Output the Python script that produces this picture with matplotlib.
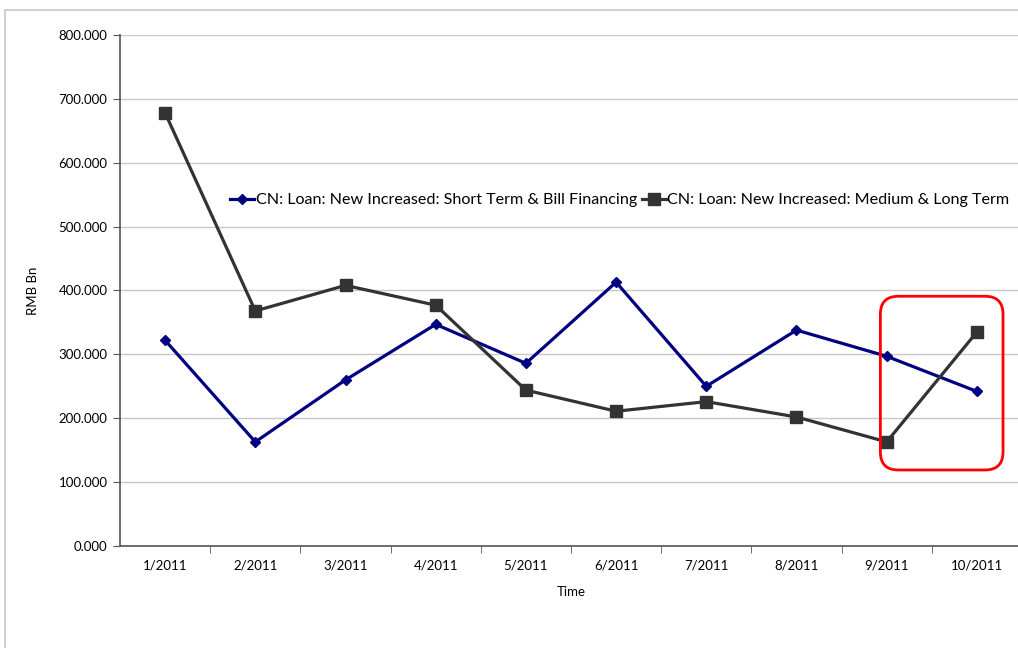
import matplotlib.pyplot as plt
import numpy as np
from matplotlib.patches import FancyBboxPatch, Rectangle

months = ["1/2011", "2/2011", "3/2011", "4/2011", "5/2011",
          "6/2011", "7/2011", "8/2011", "9/2011", "10/2011"]
short_term = [322, 163, 260, 347, 286, 413, 250, 338, 297, 242]
medium_long = [678, 368, 408, 377, 244, 211, 226, 202, 163, 335]
y_ticks = [0, 100, 200, 300, 400, 500, 600, 700, 800]

plt.rcParams["font.family"] = ["Lato", "DejaVu Sans"]

fig = plt.figure(figsize=(10.18, 6.48), dpi=100)
fig.patches.append(Rectangle((0.005, -0.1), 1.2, 1.085, transform=fig.transFigure,
                             fill=False, edgecolor="#c8c8c8", linewidth=1.2))
ax = fig.add_axes([0.1179, 0.1574, 0.886, 0.7886])

x = np.arange(len(months))
ax.plot(x, short_term, color="#000080", linewidth=2.3, marker="D", markersize=5,
        label="CN: Loan: New Increased: Short Term & Bill Financing")
ax.plot(x, medium_long, color="#333333", linewidth=2.3, marker="s", markersize=8,
        label="CN: Loan: New Increased: Medium & Long Term")

ax.set_xlim(-0.5, len(months) - 0.5)
ax.set_ylim(0, 800)
ax.set_yticks(y_ticks)
ax.set_yticklabels([f"{v:.3f}" for v in y_ticks])
ax.set_xticks(x)
ax.set_xticklabels(months)
ax.set_xticks(np.arange(0.5, len(months) - 1, 1.0), minor=True)
ax.tick_params(axis="x", which="major", length=0, pad=10, labelsize=9.5)
ax.tick_params(axis="x", which="minor", length=5, color="#555555")
ax.tick_params(axis="y", length=5, color="#555555", labelsize=9.5, pad=4)

ax.yaxis.grid(True, color="#c8c8c8", linewidth=1.0)
ax.set_axisbelow(True)
for side in ["top", "right"]:
    ax.spines[side].set_visible(False)
for side in ["left", "bottom"]:
    ax.spines[side].set_color("#555555")
    ax.spines[side].set_linewidth(1.2)

ax.set_xlabel("Time", fontsize=9.5, labelpad=10)
ax.set_ylabel("RMB Bn", fontsize=9.5, labelpad=14)

ax.legend(loc="center", bbox_to_anchor=(0.554, 0.677), ncol=2, frameon=False,
          fontsize=11.6, handlelength=1.5, handletextpad=0.1, columnspacing=0.3,
          borderaxespad=0)

# highlight box around the last two months
ax.add_patch(FancyBboxPatch((7.93, 119), 1.36, 272,
                            boxstyle="round,pad=0,rounding_size=0.2",
                            mutation_aspect=141, fill=False,
                            edgecolor="#ff0000", linewidth=2.0, zorder=5))

fig.savefig("out.png", dpi=100)
